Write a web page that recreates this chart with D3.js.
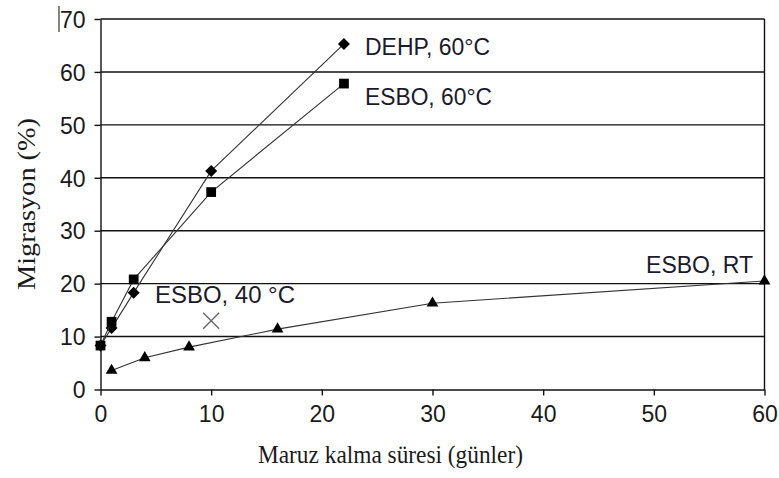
<!DOCTYPE html>
<html>
<head>
<meta charset="utf-8">
<script src="https://cdn.jsdelivr.net/npm/d3@7"></script>
<style>
  html, body { margin: 0; padding: 0; background: #fff; }
  svg { display: block; }
</style>
</head>
<body>
<svg id="chart" width="779" height="478"></svg>
<script>
// ---- data ----
const dehpX = [0, 1, 3, 10, 22];
const dehpY = [8.3, 11.6, 18.3, 41.3, 65.3];
const esbo60X = [0, 1, 3, 10, 22];
const esbo60Y = [8.3, 12.8, 20.8, 37.3, 57.8];
const esboRtX = [1, 4, 8, 16, 30, 60];
const esboRtY = [3.6, 6.0, 8.0, 11.4, 16.3, 20.5];
const esbo40X = [10];
const esbo40Y = [13.0];
const xTicks = [0, 10, 20, 30, 40, 50, 60];
const yTicks = [0, 10, 20, 30, 40, 50, 60, 70];
const labels = ["DEHP, 60\u00B0C", "ESBO, 60\u00B0C", "ESBO, 40 \u00B0C", "ESBO, RT"];
const xTitle = "Maruz kalma süresi (günler)";
const yTitle = "Migrasyon (%)";

// ---- layout ----
const svg = d3.select("#chart");
const x = d3.scaleLinear().domain([0, 60]).range([100.5, 764.5]);
const y = d3.scaleLinear().domain([0, 70]).range([389.5, 19]);
const sans = "'Liberation Sans', Arial, sans-serif";
const serif = "'Liberation Serif', 'Times New Roman', serif";

// gridlines
svg.append("g").selectAll("line").data(yTicks.filter(d => d > 0)).join("line")
  .attr("x1", x(0)).attr("x2", x(60))
  .attr("y1", d => y(d)).attr("y2", d => y(d))
  .attr("stroke", "#111").attr("stroke-width", 1.4);

// right border
svg.append("line").attr("x1", x(60)).attr("x2", x(60)).attr("y1", y(70)).attr("y2", y(0))
  .attr("stroke", "#111").attr("stroke-width", 1.4);

// axes
const xAxis = svg.append("g").attr("transform", `translate(0,${y(0)})`)
  .call(d3.axisBottom(x).tickValues(xTicks).tickSize(6).tickSizeOuter(0).tickPadding(10));
const yAxis = svg.append("g").attr("transform", `translate(${x(0)},0)`)
  .call(d3.axisLeft(y).tickValues(yTicks).tickSize(6).tickSizeOuter(0).tickPadding(9));
[xAxis, yAxis].forEach(g => {
  g.select(".domain").attr("stroke", "#111").attr("stroke-width", 1.4);
  g.selectAll(".tick line").attr("stroke", "#111").attr("stroke-width", 1.4);
  g.selectAll(".tick text").attr("fill", "#1a1a1a").attr("font-family", sans).attr("font-size", 23);
});
xAxis.selectAll(".tick text").attr("dy", "0.71em");
yAxis.selectAll(".tick text").attr("dy", "0.36em");

// small artifact line before "70"
svg.append("line").attr("x1", 59).attr("x2", 59).attr("y1", 6).attr("y2", 32)
  .attr("stroke", "#333").attr("stroke-width", 1.2);

// lines
const line = d3.line().x(d => x(d[0])).y(d => y(d[1]));
const series = [
  { xs: dehpX, ys: dehpY, shape: d3.symbolSquare, size: 72, rot: 45 },
  { xs: esbo60X, ys: esbo60Y, shape: d3.symbolSquare, size: 95, rot: 0 },
  { xs: esboRtX, ys: esboRtY, shape: d3.symbolTriangle, size: 60, rot: 0 }
];
series.forEach(s => {
  const pts = s.xs.map((v, i) => [v, s.ys[i]]);
  svg.append("path").datum(pts).attr("d", line)
    .attr("fill", "none").attr("stroke", "#333").attr("stroke-width", 1.1);
  svg.append("g").selectAll("path").data(pts).join("path")
    .attr("transform", d => `translate(${x(d[0])},${y(d[1])}) rotate(${s.rot})`)
    .attr("d", d3.symbol().type(s.shape).size(s.size))
    .attr("fill", "#000");
});

// ESBO 40 °C cross
svg.append("g").selectAll("g").data(esbo40X.map((v, i) => [v, esbo40Y[i]])).join("g")
  .attr("transform", d => `translate(${x(d[0])},${y(d[1])})`)
  .each(function () {
    const g = d3.select(this);
    g.append("line").attr("x1", -8).attr("y1", -8).attr("x2", 8).attr("y2", 8);
    g.append("line").attr("x1", -8).attr("y1", 8).attr("x2", 8).attr("y2", -8);
    g.selectAll("line").attr("stroke", "#666").attr("stroke-width", 1.3);
  });

// series labels
const lab = svg.append("g").attr("font-family", sans).attr("font-size", 23).attr("fill", "#1a1a2a");
lab.append("text").attr("x", 365).attr("y", 55).attr("textLength", 125).attr("lengthAdjust", "spacingAndGlyphs").text(labels[0]);
lab.append("text").attr("x", 365).attr("y", 105).attr("textLength", 127).attr("lengthAdjust", "spacingAndGlyphs").text(labels[1]);
lab.append("text").attr("x", 155).attr("y", 303).attr("textLength", 140).attr("lengthAdjust", "spacingAndGlyphs").text(labels[2]);
lab.append("text").attr("x", 753).attr("y", 273).attr("text-anchor", "end").text(labels[3]);

// axis titles
svg.append("text").attr("x", 258).attr("y", 463)
  .attr("textLength", 265).attr("lengthAdjust", "spacingAndGlyphs")
  .attr("font-family", serif).attr("font-size", 26).attr("fill", "#1a1a1a").text(xTitle);
svg.append("text").attr("transform", "translate(35,290) rotate(-90)")
  .attr("textLength", 172).attr("lengthAdjust", "spacingAndGlyphs")
  .attr("font-family", serif).attr("font-size", 26).attr("fill", "#1a1a1a").text(yTitle);
</script>
</body>
</html>
